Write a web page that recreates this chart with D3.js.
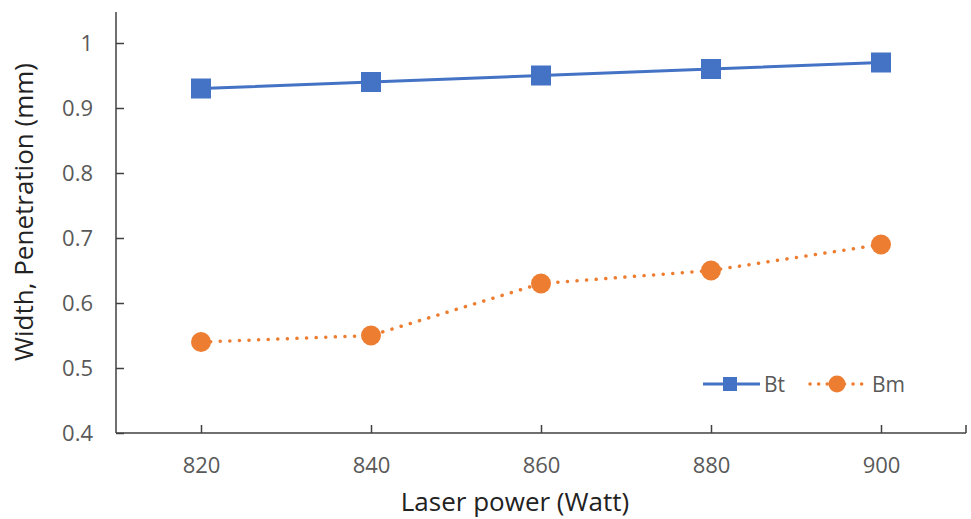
<!DOCTYPE html>
<html>
<head>
<meta charset="utf-8">
<script src="https://cdn.jsdelivr.net/npm/d3@7"></script>
<style>
  body { margin: 0; background: #fff; }
  text { font-family: "Open Sans", "Noto Sans", sans-serif; }
</style>
</head>
<body>
<div class="container"></div>
<script>
// ----- DATA -----
const powers = ["820", "840", "860", "880", "900"];
const btValues = [0.93, 0.94, 0.95, 0.96, 0.97];
const bmValues = [0.54, 0.55, 0.63, 0.65, 0.69];
const yTicks = [0.4, 0.5, 0.6, 0.7, 0.8, 0.9, 1];

const w = 971, h = 519;
const padLeft = 116, padRight = 966, padTop = 12, padBottom = 433;

const svg = d3.select(".container").append("svg")
  .attr("width", w).attr("height", h);

// ----- SCALES -----
const xScale = d3.scalePoint().domain(powers).range([padLeft, padRight]).padding(0.5);
const yScale = d3.scaleLinear().domain([0.4, 1]).range([padBottom, 43]);

// ----- AXES -----
const xAxis = svg.append("g")
  .attr("transform", "translate(0," + padBottom + ")")
  .call(d3.axisBottom(xScale).tickSize(-8).tickSizeOuter(0).tickPadding(24));
xAxis.select(".domain").remove();
xAxis.append("line").attr("x1", padLeft).attr("x2", padRight)
  .attr("stroke", "#404040").attr("stroke-width", 1.5);
xAxis.append("line").attr("x1", padRight).attr("x2", padRight).attr("y1", 0).attr("y2", -8)
  .attr("stroke", "#404040").attr("stroke-width", 1.5);
xAxis.selectAll(".tick line").attr("stroke", "#404040").attr("stroke-width", 1.5);
xAxis.selectAll(".tick text").attr("fill", "#595959").style("font-size", "22px");

const yAxis = svg.append("g")
  .attr("transform", "translate(" + padLeft + ",0)")
  .call(d3.axisLeft(yScale).tickValues(yTicks).tickFormat(d3.format("~g"))
    .tickSize(-8).tickSizeOuter(0).tickPadding(23));
yAxis.select(".domain").remove();
yAxis.append("line").attr("y1", padTop).attr("y2", padBottom)
  .attr("stroke", "#404040").attr("stroke-width", 1.5);
yAxis.selectAll(".tick line").attr("stroke", "#404040").attr("stroke-width", 1.5);
yAxis.selectAll(".tick text").attr("fill", "#595959").style("font-size", "22px");

// ----- AXIS TITLES -----
svg.append("text")
  .attr("x", 515).attr("y", 511)
  .attr("text-anchor", "middle").attr("fill", "#222")
  .style("font-size", "26px").text("Laser power (Watt)");

svg.append("text")
  .attr("transform", "translate(33," + 212 + ") rotate(-90)")
  .attr("text-anchor", "middle").attr("fill", "#222")
  .style("font-size", "26px").text("Width, Penetration (mm)");

// ----- LINES -----
const line = d3.line().x((d, i) => xScale(powers[i])).y(d => yScale(d));

svg.append("path").datum(bmValues)
  .attr("d", line).attr("fill", "none")
  .attr("stroke", "#ED7D31").attr("stroke-width", 3.5)
  .attr("stroke-linecap", "round").attr("stroke-dasharray", "0.1 9.5");

svg.append("path").datum(btValues)
  .attr("d", line).attr("fill", "none")
  .attr("stroke", "#4472C4").attr("stroke-width", 3);

// ----- MARKERS -----
svg.selectAll(".bm").data(bmValues).enter().append("circle")
  .attr("class", "bm")
  .attr("cx", (d, i) => xScale(powers[i])).attr("cy", d => yScale(d))
  .attr("r", 10).attr("fill", "#ED7D31");

svg.selectAll(".bt").data(btValues).enter().append("rect")
  .attr("class", "bt")
  .attr("x", (d, i) => xScale(powers[i]) - 10).attr("y", d => yScale(d) - 10)
  .attr("width", 20).attr("height", 20).attr("fill", "#4472C4");

// ----- LEGEND -----
const legend = svg.append("g").attr("transform", "translate(0,384)");
legend.append("line").attr("x1", 703).attr("x2", 760)
  .attr("stroke", "#4472C4").attr("stroke-width", 3);
legend.append("rect").attr("x", 723).attr("y", -7).attr("width", 14).attr("height", 14)
  .attr("fill", "#4472C4");
legend.append("text").attr("x", 764).attr("y", 8)
  .attr("fill", "#595959").style("font-size", "21px").text("Bt");
legend.append("line").attr("x1", 810).attr("x2", 863)
  .attr("stroke", "#ED7D31").attr("stroke-width", 3.5)
  .attr("stroke-linecap", "round").attr("stroke-dasharray", "0.1 8.5");
legend.append("circle").attr("cx", 837).attr("cy", 0).attr("r", 8.5)
  .attr("fill", "#ED7D31");
legend.append("text").attr("x", 872).attr("y", 8)
  .attr("fill", "#595959").style("font-size", "21px").text("Bm");
</script>
</body>
</html>
